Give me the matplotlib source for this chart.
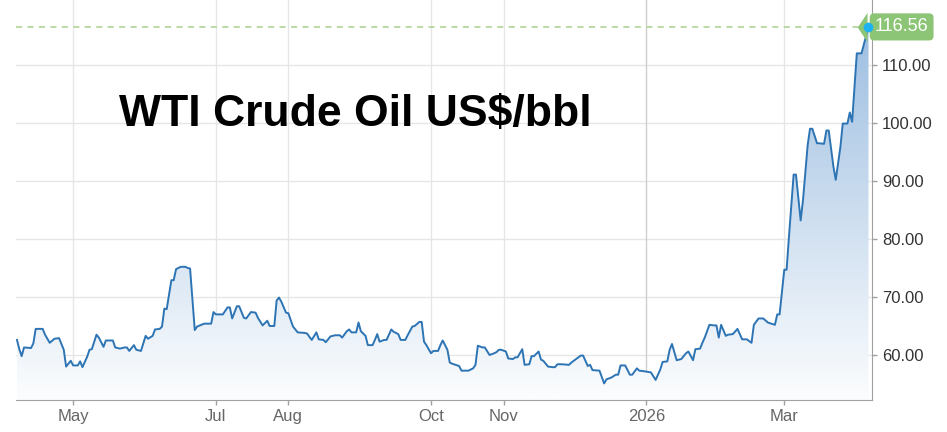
import numpy as np
import pandas as pd
import matplotlib
matplotlib.use("Agg")
import matplotlib.pyplot as plt
import matplotlib.dates as mdates
from matplotlib.colors import LinearSegmentedColormap
from matplotlib.patches import Polygon
from matplotlib.transforms import ScaledTranslation

plt.rcParams["font.family"] = ["Liberation Sans", "DejaVu Sans"]

# Данные (WTI, $/баррель)
title = "WTI Crude Oil US$/bbl"

dates = [
    "2025-04-07", "2025-04-08", "2025-04-09", "2025-04-10", "2025-04-13", "2025-04-14", "2025-04-15",
    "2025-04-18", "2025-04-19", "2025-04-21", "2025-04-23", "2025-04-25", "2025-04-27", "2025-04-28",
    "2025-04-30",
    "2025-05-01", "2025-05-03", "2025-05-04", "2025-05-05", "2025-05-07", "2025-05-08", "2025-05-09",
    "2025-05-11", "2025-05-12", "2025-05-14", "2025-05-15", "2025-05-18", "2025-05-19", "2025-05-21",
    "2025-05-23", "2025-05-24", "2025-05-25", "2025-05-27", "2025-05-28", "2025-05-30",
    "2025-06-01", "2025-06-02", "2025-06-04", "2025-06-05", "2025-06-07", "2025-06-08", "2025-06-09",
    "2025-06-10", "2025-06-12", "2025-06-13", "2025-06-14", "2025-06-16", "2025-06-18", "2025-06-19",
    "2025-06-20", "2025-06-22", "2025-06-23", "2025-06-26", "2025-06-29", "2025-06-30",
    "2025-07-01", "2025-07-04", "2025-07-06", "2025-07-07", "2025-07-08", "2025-07-10", "2025-07-11",
    "2025-07-13", "2025-07-14", "2025-07-16", "2025-07-18", "2025-07-19", "2025-07-21", "2025-07-23",
    "2025-07-24", "2025-07-26", "2025-07-27", "2025-07-28", "2025-07-29", "2025-07-31",
    "2025-08-01", "2025-08-03", "2025-08-05", "2025-08-08", "2025-08-09", "2025-08-11", "2025-08-13",
    "2025-08-14", "2025-08-16", "2025-08-17", "2025-08-19", "2025-08-21", "2025-08-23", "2025-08-24",
    "2025-08-26", "2025-08-27", "2025-08-28", "2025-08-30", "2025-08-31",
    "2025-09-01", "2025-09-03", "2025-09-04", "2025-09-06", "2025-09-07", "2025-09-08", "2025-09-09",
    "2025-09-11", "2025-09-12", "2025-09-14", "2025-09-15", "2025-09-17", "2025-09-18", "2025-09-20",
    "2025-09-21", "2025-09-23", "2025-09-24", "2025-09-26", "2025-09-27", "2025-09-28", "2025-09-29",
    "2025-10-01", "2025-10-02", "2025-10-04", "2025-10-05", "2025-10-06", "2025-10-08", "2025-10-09",
    "2025-10-10", "2025-10-13", "2025-10-14", "2025-10-17", "2025-10-19", "2025-10-20", "2025-10-21",
    "2025-10-23", "2025-10-24", "2025-10-26", "2025-10-28", "2025-10-29", "2025-10-30", "2025-10-31",
    "2025-11-02", "2025-11-03", "2025-11-05", "2025-11-06", "2025-11-07", "2025-11-09", "2025-11-10",
    "2025-11-12", "2025-11-13", "2025-11-14", "2025-11-16", "2025-11-17", "2025-11-18", "2025-11-20",
    "2025-11-22", "2025-11-23", "2025-11-24", "2025-11-26", "2025-11-29", "2025-11-30",
    "2025-12-02", "2025-12-04", "2025-12-05", "2025-12-07", "2025-12-08", "2025-12-09", "2025-12-12",
    "2025-12-14", "2025-12-15", "2025-12-17", "2025-12-19", "2025-12-20", "2025-12-21", "2025-12-23",
    "2025-12-25", "2025-12-26", "2025-12-28", "2025-12-29", "2025-12-31",
    "2026-01-03", "2026-01-05", "2026-01-07", "2026-01-08", "2026-01-10", "2026-01-11", "2026-01-12",
    "2026-01-14", "2026-01-16", "2026-01-18", "2026-01-19", "2026-01-21", "2026-01-22", "2026-01-24",
    "2026-01-25", "2026-01-26", "2026-01-28", "2026-01-30", "2026-01-31",
    "2026-02-01", "2026-02-02", "2026-02-04", "2026-02-05", "2026-02-07", "2026-02-09", "2026-02-10",
    "2026-02-11", "2026-02-13", "2026-02-15", "2026-02-16", "2026-02-18", "2026-02-20", "2026-02-22",
    "2026-02-25", "2026-02-26", "2026-02-27",
    "2026-03-01", "2026-03-02", "2026-03-03", "2026-03-05", "2026-03-06", "2026-03-08", "2026-03-09",
    "2026-03-11", "2026-03-12", "2026-03-13", "2026-03-15", "2026-03-16", "2026-03-18", "2026-03-19",
    "2026-03-20", "2026-03-22", "2026-03-23", "2026-03-25", "2026-03-26", "2026-03-28", "2026-03-29",
    "2026-03-30",
    "2026-04-01", "2026-04-03", "2026-04-06",
]

prices = [
    62.6, 61.0, 59.8, 61.3, 61.2, 62.0, 64.5,
    64.5, 63.5, 62.1, 62.8, 62.9, 60.9, 58.0,
    59.0,
    58.2, 58.2, 58.9, 57.9, 59.7, 60.9, 61.0,
    63.5, 63.0, 61.4, 62.5, 62.5, 61.3, 61.1,
    61.3, 61.3, 60.7, 61.7, 60.9, 60.7,
    63.3, 62.8, 63.3, 64.4, 64.5, 64.9, 68.0,
    67.9, 72.9, 72.9, 74.8, 75.2, 75.2, 75.0,
    74.9, 64.3, 64.9, 65.4, 65.4, 67.4,
    67.0, 67.0, 68.2, 68.2, 66.3, 68.4, 68.4,
    66.4, 66.3, 67.4, 67.3, 66.4, 65.1, 65.9,
    65.0, 65.0, 69.4, 69.9, 69.2, 67.3,
    67.2, 64.9, 63.9, 63.8, 63.7, 62.6, 63.9,
    62.7, 62.6, 62.2, 63.2, 63.4, 63.4, 63.0,
    64.1, 64.4, 63.9, 63.9, 65.6,
    64.1, 63.3, 61.7, 61.7, 62.6, 63.6, 62.3,
    62.6, 62.6, 64.4, 64.0, 63.6, 62.6, 62.6,
    63.4, 64.9, 65.0, 65.7, 65.7, 62.3, 61.7,
    60.3, 60.7, 60.7, 61.7, 62.5, 60.9, 58.7,
    58.5, 58.1, 57.3, 57.3, 57.7, 58.3, 61.6,
    61.3, 61.3, 60.0, 60.3, 60.5, 60.9, 60.9,
    60.6, 59.4, 59.3, 59.6, 59.6, 61.0, 58.3,
    58.4, 59.8, 59.8, 60.6, 59.2, 59.0, 58.0,
    57.9, 57.9, 58.4, 58.4, 58.3, 58.7,
    59.3, 59.9, 59.9, 58.1, 58.3, 57.4, 57.3,
    55.1, 55.8, 56.1, 56.6, 56.6, 58.2, 58.2,
    56.6, 56.6, 57.7, 57.3, 57.2,
    57.0, 55.7, 57.5, 58.8, 58.9, 60.9, 61.9,
    59.1, 59.3, 60.3, 60.6, 59.1, 61.0, 61.1,
    62.1, 63.0, 65.2, 65.1, 65.1,
    63.0, 65.2, 63.3, 63.5, 63.6, 64.5, 63.6,
    62.7, 62.7, 62.1, 65.2, 66.3, 66.3, 65.6,
    65.2, 67.0, 67.0,
    74.7, 74.7, 80.4, 91.1, 91.1, 83.2, 86.7,
    96.2, 99.0, 99.0, 96.5, 96.5, 96.4, 98.7,
    98.7, 92.5, 90.2, 95.9, 99.9, 99.9, 101.8,
    100.2,
    112.0, 112.0, 116.56,
]

last_price = 116.56
y_ticks = [60, 70, 80, 90, 100, 110]
x_ticks = ["2025-05-01", "2025-07-01", "2025-08-01", "2025-10-01",
           "2025-11-01", "2026-01-01", "2026-03-01"]
x_labels = ["May", "Jul", "Aug", "Oct", "Nov", "2026", "Mar"]

# Подготовка
xn = mdates.date2num(pd.to_datetime(dates))
prices = np.array(prices)
ymin, ymax = 52.24, 121.2
xmin = mdates.date2num(pd.Timestamp("2025-04-06 14:00"))
xmax = mdates.date2num(pd.Timestamp("2026-04-07 12:00"))

fig = plt.figure(figsize=(9.47, 4.32), dpi=100)
ax = fig.add_axes([16 / 947, 32 / 432, 856 / 947, 400 / 432])

# Градиентная заливка под линией
poly = Polygon(np.column_stack([np.r_[xn[0], xn, xn[-1]], np.r_[ymin, prices, ymin]]),
               closed=True, fc="none", ec="none")
ax.add_patch(poly)
grad = np.linspace(0, 1, 256).reshape(-1, 1)
cmap = LinearSegmentedColormap.from_list("fill", ["#fcfdfe", "#97badf"])
im = ax.imshow(grad, cmap=cmap, aspect="auto", origin="lower",
               extent=[xn[0], xn[-1], ymin, ymax], zorder=1)
im.set_clip_path(poly)

ax.plot(xn, prices, color="#2d74b4", lw=1.4, zorder=3)

# Последнее значение
ax.axhline(last_price, color="#a8d18f", ls=(0, (4, 3.5)), lw=1.1, zorder=2)
tri = [(-1.0, 0.0), (0.0, 1.5), (0.0, -1.5)]
ax.plot(xn[-1], last_price, marker=tri, ms=21, color="#8cc576", mec="none", zorder=5,
        clip_on=False, transform=ax.transData + ScaledTranslation(-1 / 100, 0, fig.dpi_scale_trans))
ax.annotate(f"{last_price:.2f}", xy=(xn[-1], last_price), xytext=(4.5, 0),
            textcoords="offset points", ha="left", va="center", color="white", fontsize=13,
            bbox=dict(boxstyle="round,pad=0.28,rounding_size=0.25", fc="#8cc576", ec="none"),
            zorder=5, annotation_clip=False)
ax.plot(xn[-1], last_price, "o", ms=7, color="#1db3f0", mec="none", zorder=7, clip_on=False)

# Оси
ax.set_xlim(xmin, xmax)
ax.set_ylim(ymin, ymax)
for s in ["left", "top"]:
    ax.spines[s].set_visible(False)
ax.spines["bottom"].set_color("#a0a0a0")
ax.spines["right"].set_color("#a0a0a0")

ax.yaxis.tick_right()
ax.set_yticks(y_ticks)
ax.set_yticklabels([f"{v:.2f}" for v in y_ticks])
ax.set_xticks(mdates.date2num(pd.to_datetime(x_ticks)))
ax.set_xticklabels(x_labels)
ax.tick_params(axis="y", length=3.6, width=1, color="#a0a0a0", pad=3.6, labelsize=12, labelcolor="#333333")
ax.tick_params(axis="x", length=3.6, width=1, color="#a0a0a0", pad=3.0, labelsize=12, labelcolor="#666666")

for v in y_ticks:
    ax.axhline(v, color="#e6e6e6", lw=1, zorder=0)
for t, lab in zip(x_ticks, x_labels):
    ax.axvline(mdates.date2num(pd.Timestamp(t)), color="#cfcfcf" if lab == "2026" else "#e6e6e6",
               lw=1, zorder=0)

fig.text(355 / 947, 1 - 126 / 432, title, fontsize=32, fontweight="bold", ha="center",
         va="baseline", color="black")

fig.savefig("out.png", dpi=100)
